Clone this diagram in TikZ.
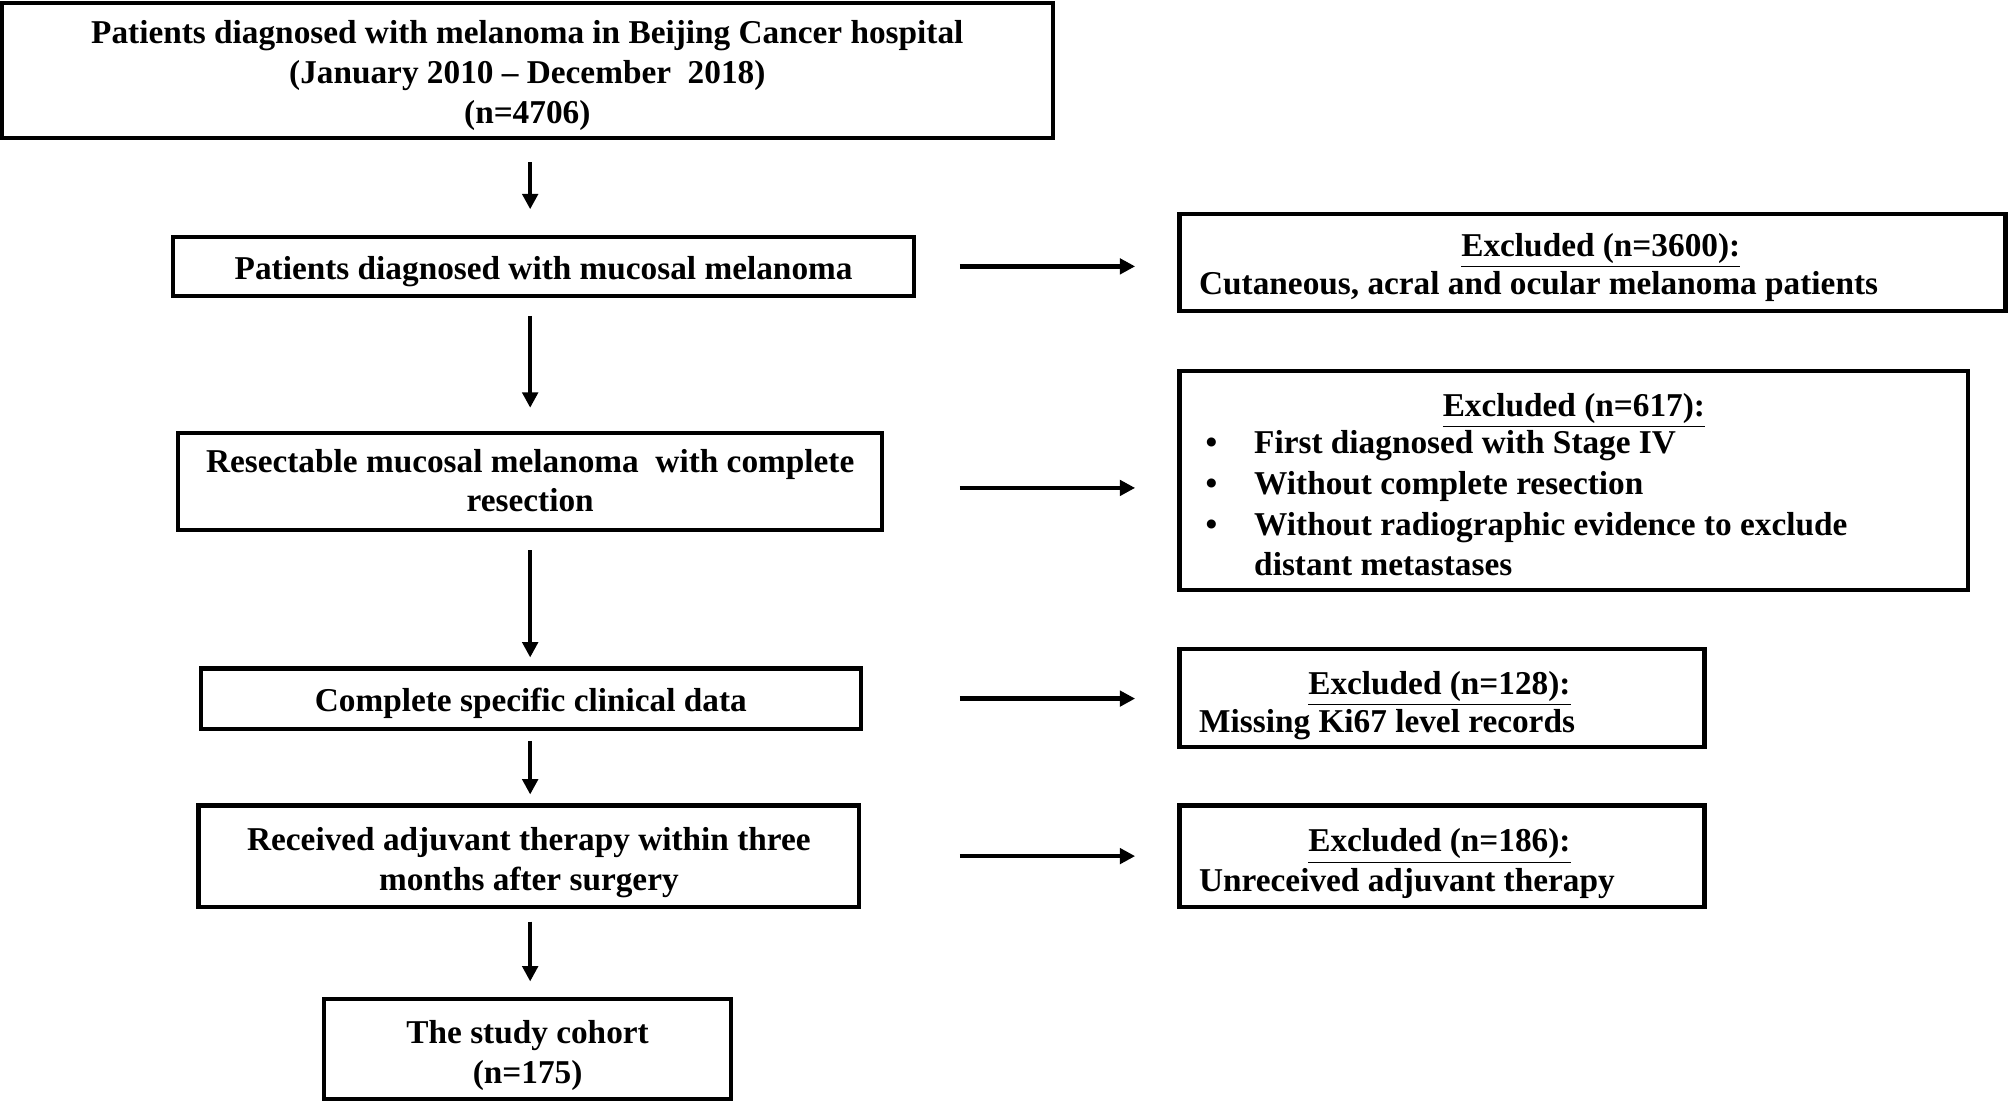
\documentclass[tikz,border=0pt]{standalone}
\usepackage{fontspec}
\setmainfont{Liberation Serif}
\usetikzlibrary{arrows.meta}
\newcommand\boxlines[2][-2pt]{\raisebox{#1}[\height][\depth]{\begin{tabular}{@{}c@{}}#2\end{tabular}}}
\begin{document}
\begin{tikzpicture}[x=0.5pt,y=-0.5pt,
  box/.style={draw,line width=1.6pt,inner sep=0pt,align=center,font=\fontsize{13pt}{15.5pt}\selectfont\bfseries},
  ebox/.style={draw,line width=1.6pt,inner sep=0pt},
  txt/.style={inner sep=0pt,anchor=base,font=\fontsize{13pt}{15.5pt}\selectfont\bfseries},
  ltxt/.style={txt,anchor=base west},
  arr/.style={line width=1.8pt,-{Triangle[length=6pt,width=6pt]}}]
\useasboundingbox[fill=white] (0,0) rectangle (1568,859);
\coordinate (col) at (414,0);
% main column
\node[box,minimum width=410.25pt,minimum height=53pt] (b1) at (411.75,55)
  {\boxlines{Patients diagnosed with melanoma in Beijing Cancer hospital\\(January 2010 -- December\ \ 2018)\\(n=4706)}};
\node[box,minimum width=289.5pt,minimum height=23pt] (b2) at (424.5,208)
  {\boxlines{Patients diagnosed with mucosal melanoma}};
\node[box,minimum width=275pt,minimum height=38pt] (b3) at (414,376)
  {\boxlines[-1pt]{Resectable mucosal melanoma\ \ with complete\\resection}};
\node[box,minimum width=257.5pt,minimum height=23.5pt] (b4) at (414.5,545.5)
  {\boxlines{Complete specific clinical data}};
\node[box,minimum width=258pt,minimum height=39.5pt] (b5) at (413,668.5)
  {\boxlines[-2.5pt]{Received adjuvant therapy within three\\months after surgery}};
\node[box,minimum width=159pt,minimum height=39pt] (b6) at (412,819)
  {\boxlines[-2.5pt]{The study cohort\\(n=175)}};
% exclusion boxes
\node[ebox,minimum width=322.5pt,minimum height=38pt] (e1) at (1243.5,205) {};
\node[ebox,minimum width=308pt,minimum height=85.5pt] (e2) at (1229,375.5) {};
\node[ebox,minimum width=205pt,minimum height=38pt] (e3) at (1126,545) {};
\node[ebox,minimum width=205pt,minimum height=39.5pt] (e4) at (1126,668.5) {};
% exclusion texts
\node[txt] (e1t) at (1250,200) {\underline{Excluded (n=3600):}};
\node[ltxt] (e1b) at (936,230) {Cutaneous, acral and ocular melanoma patients};
\node[txt] (e2t) at (1229,325) {\underline{Excluded (n=617):}};
\node[ltxt] (e2p1) at (941,354) {\makebox[19pt][l]{•}First diagnosed with Stage IV};
\node[ltxt] (e2p2) at (941,386) {\makebox[19pt][l]{•}Without complete resection};
\node[ltxt] (e2p3) at (941,418) {\makebox[19pt][l]{•}Without radiographic evidence to exclude};
\node[ltxt] (e2p4) at (979,449) {distant metastases};
\node[txt] (e3t) at (1124,542) {\underline{Excluded (n=128):}};
\node[ltxt] (e3b) at (936,572) {Missing Ki67 level records};
\node[txt] (e4t) at (1124,665) {\underline{Excluded (n=186):}};
\node[ltxt] (e4b) at (936,696) {Unreceived adjuvant therapy};
% vertical arrows
\draw[arr,shorten <=8.5pt,shorten >=10pt] (b1.south -| col) -- (b2.north -| col);
\draw[arr,shorten <=7pt,shorten >=9pt] (b2.south -| col) -- (b3.north -| col);
\draw[arr,shorten <=7pt,shorten >=3.5pt] (b3.south -| col) -- (b4.north -| col);
\draw[arr,shorten <=4pt,shorten >=3.5pt] (b4.south -| col) -- (b5.north -| col);
\draw[arr,shorten <=5pt,shorten >=6pt] (b5.south -| col) -- (b6.north -| col);
% horizontal arrows
\draw[arr,shorten <=17pt,shorten >=16.5pt] (b2.east) -- (b2.east -| e1.west);
\draw[arr,shorten <=29.5pt,shorten >=16.5pt] ([yshift=-2.5pt]b3.east) -- ([yshift=-2.5pt]b3.east -| e2.west);
\draw[arr,shorten <=38pt,shorten >=16.5pt] (b4.east) -- (b4.east -| e3.west);
\draw[arr,shorten <=38.5pt,shorten >=16.5pt] (b5.east) -- (b5.east -| e4.west);
\end{tikzpicture}
\end{document}
